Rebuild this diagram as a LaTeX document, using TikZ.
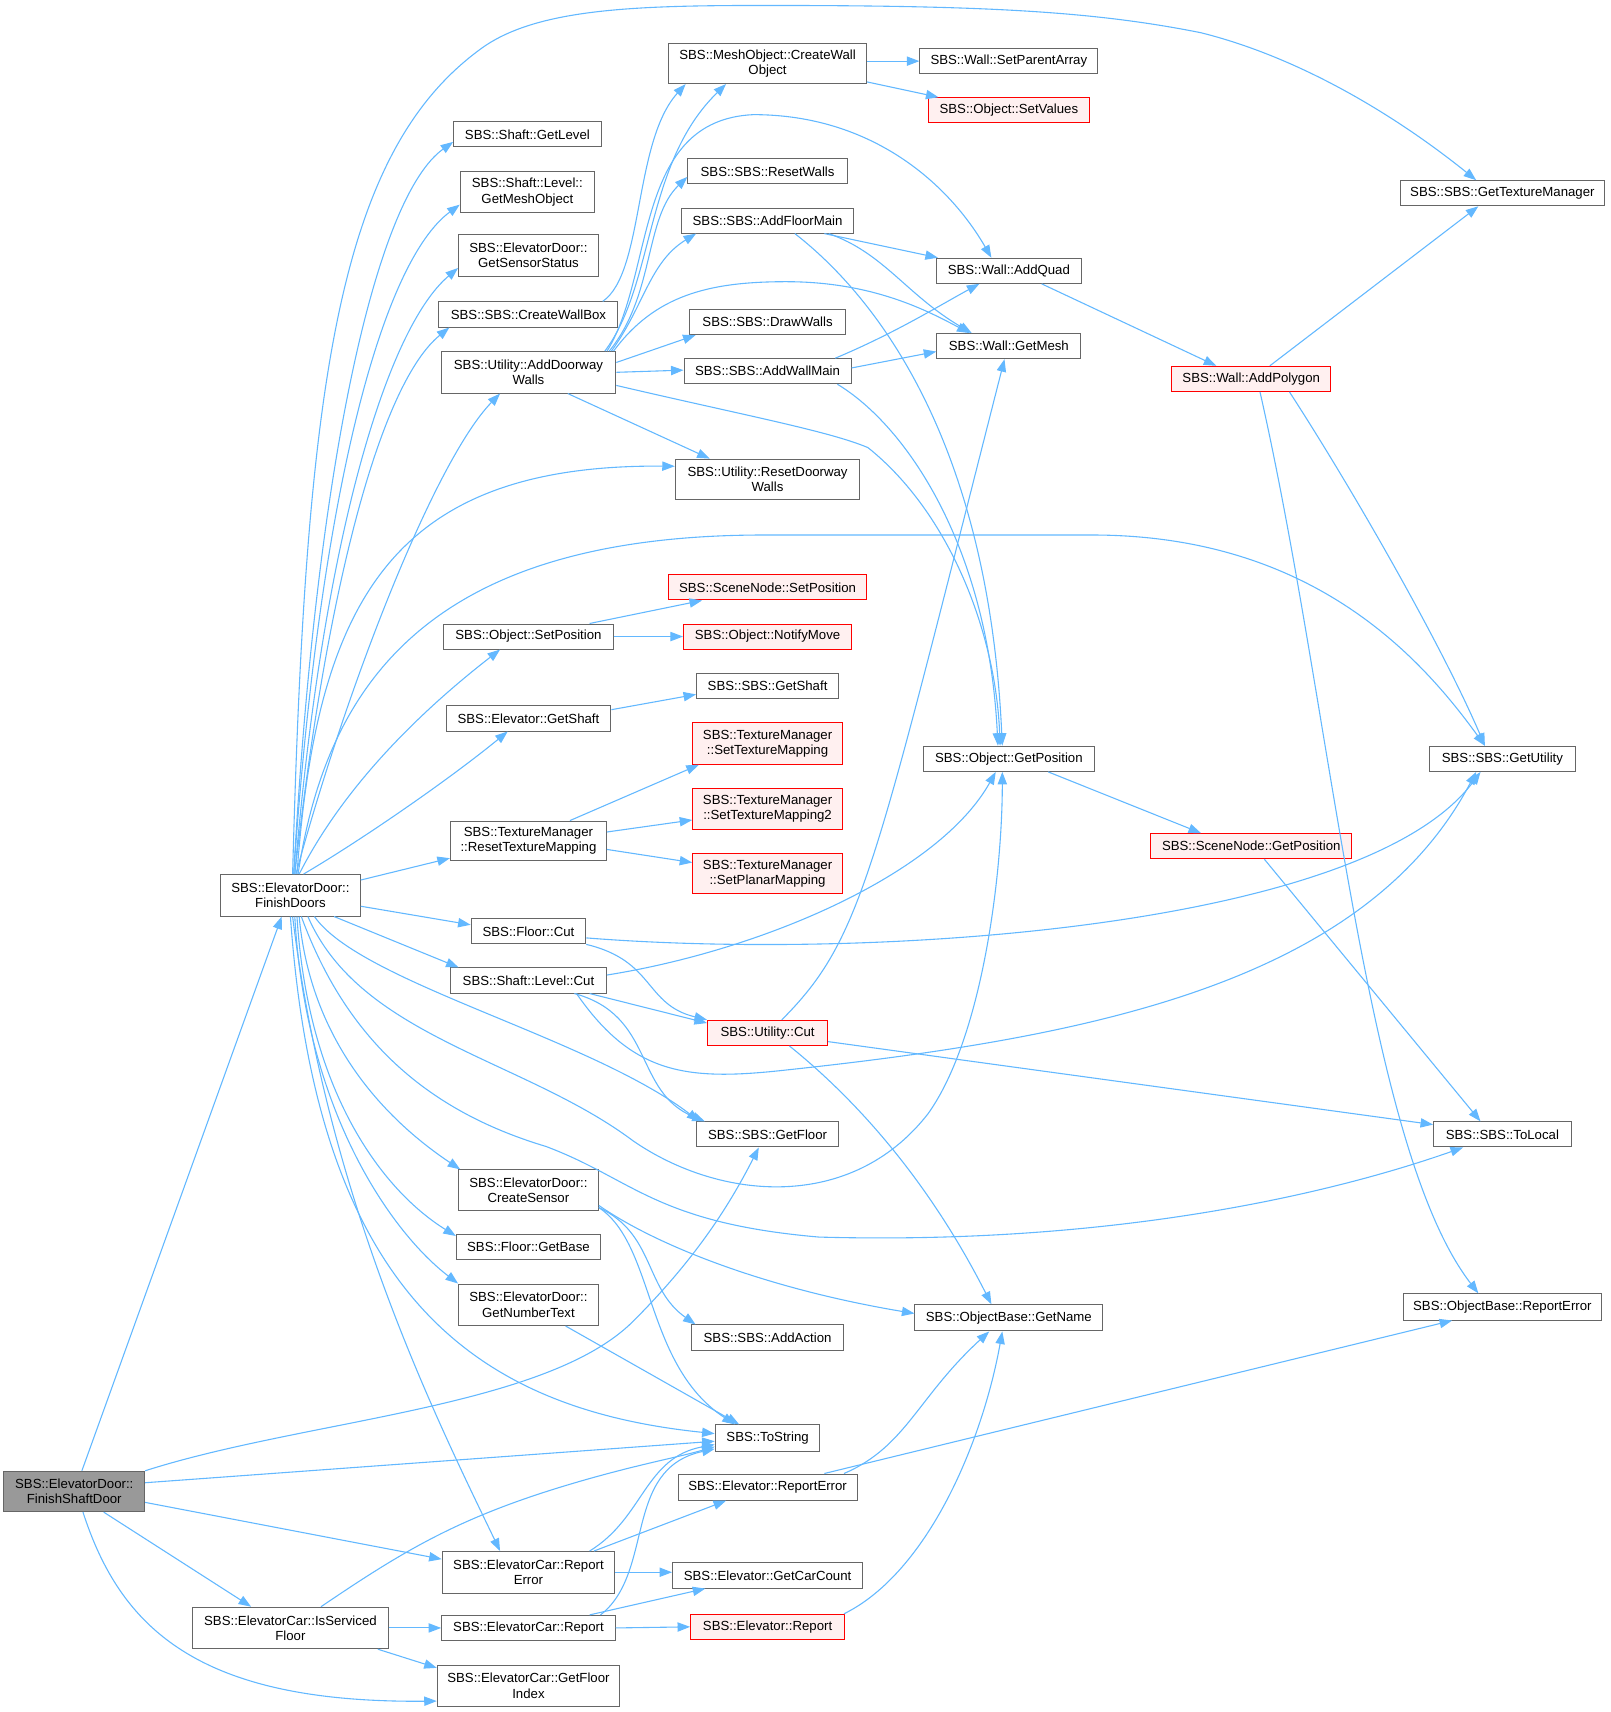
\documentclass[tikz,border=0pt]{standalone}
\usepackage{fontspec}
\setmainfont{Liberation Sans}
\usetikzlibrary{arrows.meta}
\definecolor{callblue}{HTML}{63B8FF}
\definecolor{boxline}{HTML}{666666}
\definecolor{rootgray}{HTML}{999999}
\definecolor{pinkfill}{HTML}{FFF0F0}

\begin{document}
\begin{tikzpicture}[x=1pt,y=-1pt,
  fn/.style={draw=boxline, fill=white, line width=0.9pt, align=center,
    font=\fontsize{12.1}{14}\selectfont, inner sep=1pt, minimum height=23pt},
  fn2/.style={fn, minimum height=38pt},
  hot/.style={draw=red, fill=pinkfill},
  call/.style={draw=callblue, line width=1pt, -{Triangle[length=11.5pt,width=8.5pt]}}]
\useasboundingbox (0,0) rectangle (1475,1568);
% caller and first level
\node[fn2, fill=rootgray, minimum width=129pt, minimum height=37pt] (root) at (68,1366) {SBS::ElevatorDoor::\\FinishShaftDoor};
\node[fn2, minimum width=128pt] (finishdoors) at (266,820) {SBS::ElevatorDoor::\\FinishDoors};
\node[fn2, minimum width=179pt] (isserviced) at (266,1491) {SBS::ElevatorCar::IsServiced\\Floor};
% second column
\node[fn, minimum width=135pt] (getlevel) at (483,123) {SBS::Shaft::GetLevel};
\node[fn2, minimum width=123pt] (meshobj) at (483,176) {SBS::Shaft::Level::\\GetMeshObject};
\node[fn2, minimum width=128pt] (sensorstatus) at (484,234) {SBS::ElevatorDoor::\\GetSensorStatus};
\node[fn, minimum width=164pt] (wallbox) at (484,288) {SBS::SBS::CreateWallBox};
\node[fn2, minimum width=160pt] (adddoorway) at (484,341) {SBS::Utility::AddDoorway\\Walls};
\node[fn, minimum width=155pt] (setpos) at (484,583) {SBS::Object::SetPosition};
\node[fn, minimum width=151pt] (elevshaft) at (484,658) {SBS::Elevator::GetShaft};
\node[fn2, minimum width=143pt, minimum height=36pt] (resettex) at (484,770) {SBS::TextureManager\\::ResetTextureMapping};
\node[fn, minimum width=105pt] (floorcut) at (484,853) {SBS::Floor::Cut};
\node[fn, minimum width=143pt] (levelcut) at (484,898) {SBS::Shaft::Level::Cut};
\node[fn2, minimum width=128pt, minimum height=37pt] (createsensor) at (484,1090) {SBS::ElevatorDoor::\\CreateSensor};
\node[fn, minimum width=132pt] (getbase) at (484,1142) {SBS::Floor::GetBase};
\node[fn2, minimum width=128pt] (numbertext) at (484,1195) {SBS::ElevatorDoor::\\GetNumberText};
\node[fn2, minimum width=158pt] (carerror) at (484,1440) {SBS::ElevatorCar::Report\\Error};
\node[fn, minimum width=159pt] (carreport) at (484,1491) {SBS::ElevatorCar::Report};
\node[fn2, minimum width=167pt] (floorindex) at (484,1544) {SBS::ElevatorCar::GetFloor\\Index};
% third column
\node[fn2, minimum width=181pt, minimum height=37pt] (wallobject) at (703,58) {SBS::MeshObject::CreateWall\\Object};
\node[fn, minimum width=146pt] (resetwalls) at (703,157) {SBS::SBS::ResetWalls};
\node[fn, minimum width=158pt] (floormain) at (703,202) {SBS::SBS::AddFloorMain};
\node[fn, minimum width=143pt] (drawwalls) at (703,295) {SBS::SBS::DrawWalls};
\node[fn, minimum width=153pt] (wallmain) at (703,340) {SBS::SBS::AddWallMain};
\node[fn2, minimum width=169pt, minimum height=37pt] (resetdoorway) at (703,439) {SBS::Utility::ResetDoorway\\Walls};
\node[fn, hot, minimum width=182pt] (nodesetpos) at (703,538) {SBS::SceneNode::SetPosition};
\node[fn, hot, minimum width=154pt] (notifymove) at (703,583) {SBS::Object::NotifyMove};
\node[fn, minimum width=130pt] (sbsshaft) at (703,628) {SBS::SBS::GetShaft};
\node[fn2, hot, minimum width=137pt] (texmap) at (703,681) {SBS::TextureManager\\::SetTextureMapping};
\node[fn2, hot, minimum width=137pt] (texmaptwo) at (703,741) {SBS::TextureManager\\::SetTextureMapping2};
\node[fn2, hot, minimum width=137pt, minimum height=37pt] (planar) at (703,800) {SBS::TextureManager\\::SetPlanarMapping};
\node[fn, hot, minimum width=110pt] (utilcut) at (703,946) {SBS::Utility::Cut};
\node[fn, minimum width=130pt] (getfloor) at (703,1039) {SBS::SBS::GetFloor};
\node[fn, minimum width=139pt] (addaction) at (703,1225) {SBS::SBS::AddAction};
\node[fn, minimum width=96pt, minimum height=24pt] (tostring) at (703,1317) {SBS::ToString};
\node[fn, minimum width=164pt, minimum height=24pt] (elevreperr) at (703,1362) {SBS::Elevator::ReportError};
\node[fn, minimum width=174pt] (carcount) at (703,1443) {SBS::Elevator::GetCarCount};
\node[fn, hot, minimum width=141pt] (elevreport) at (703,1490) {SBS::Elevator::Report};
% fourth column
\node[fn, minimum width=163pt] (parentarray) at (924,56) {SBS::Wall::SetParentArray};
\node[fn, hot, minimum width=148pt] (setvalues) at (924,101) {SBS::Object::SetValues};
\node[fn, minimum width=133pt] (addquad) at (924,248) {SBS::Wall::AddQuad};
\node[fn, minimum width=132pt] (wallmesh) at (924,317) {SBS::Wall::GetMesh};
\node[fn, minimum width=156pt] (getposition) at (924,695) {SBS::Object::GetPosition};
\node[fn, minimum width=172pt, minimum height=24pt] (getname) at (924,1207) {SBS::ObjectBase::GetName};
% fifth and sixth columns
\node[fn, hot, minimum width=146pt] (addpolygon) at (1146,347) {SBS::Wall::AddPolygon};
\node[fn, hot, minimum width=184pt] (nodegetpos) at (1146,775) {SBS::SceneNode::GetPosition};
\node[fn, minimum width=187pt] (texmanager) at (1376,177) {SBS::SBS::GetTextureManager};
\node[fn, minimum width=134pt] (getutility) at (1376,695) {SBS::SBS::GetUtility};
\node[fn, minimum width=126pt] (tolocal) at (1376,1039) {SBS::SBS::ToLocal};
\node[fn, minimum width=182pt, minimum height=24pt] (objreperr) at (1376,1197) {SBS::ObjectBase::ReportError};

% calls of FinishShaftDoor
\draw[call] ([xshift=7]root.north) -- ([xshift=-8]finishdoors.south);
\draw[call] (root.north east) .. controls (280,1300) and (500,1290) .. (580,1210) .. controls (640,1150) and (670,1100) .. ([xshift=-8]getfloor.south);
\draw[call] ([yshift=8]root.east) -- ([yshift=-3]tostring.west);
\draw[call] ([yshift=-10]root.east) -- ([yshift=12]carerror.west);
\draw[call] ([xshift=27]root.south) -- ([xshift=-36]isserviced.north);
\draw[call] ([xshift=8]root.south) .. controls (110,1490) and (180,1560) .. ([yshift=-14]floorindex.west);

% calls of FinishDoors
\draw[call] ([xshift=2]finishdoors.north) .. controls (280,350) and (310,140) .. (440,45) .. controls (490,8) and (580,5) .. (700,5) .. controls (900,5) and (1000,10) .. (1100,30) .. controls (1200,55) and (1290,115) .. ([xshift=-24]texmanager.north);
\draw[call] ([xshift=3]finishdoors.north) .. controls (290,420) and (345,180) .. ([yshift=5]getlevel.south west);
\draw[call] ([xshift=3]finishdoors.north) .. controls (293,450) and (350,240) .. ([yshift=8]meshobj.south west);
\draw[call] ([xshift=4]finishdoors.north) .. controls (296,490) and (355,300) .. ([yshift=8]sensorstatus.south west);
\draw[call] ([xshift=4]finishdoors.north) .. controls (300,530) and (350,350) .. ([xshift=10]wallbox.south west);
\draw[call] ([xshift=5]finishdoors.north) .. controls (320,620) and (400,420) .. ([xshift=-26]adddoorway.south);
\draw[call] ([xshift=6]finishdoors.north) .. controls (290,550) and (360,425) .. ([yshift=12]resetdoorway.west);
\draw[call] ([xshift=7]finishdoors.north) .. controls (300,620) and (400,490) .. (700,490) -- (1000,490) .. controls (1200,490) and (1300,600) .. ([xshift=-16]getutility.north);
\draw[call] ([xshift=8]finishdoors.north) .. controls (320,710) and (400,640) .. ([xshift=-26]setpos.south);
\draw[call] ([xshift=12]finishdoors.north) .. controls (330,770) and (410,715) .. ([xshift=-19]elevshaft.south);
\draw[call] ([yshift=14]finishdoors.east) -- ([yshift=-16]resettex.west);
\draw[call] ([yshift=-10]finishdoors.east) -- ([yshift=6]floorcut.west);
\draw[call] ([xshift=40]finishdoors.south) -- ([xshift=8]levelcut.north west);
\draw[call] ([xshift=22]finishdoors.south) .. controls (330,900) and (540,950) .. ([xshift=3]getfloor.north west);
\draw[call] ([xshift=16]finishdoors.south) .. controls (330,950) and (480,970) .. (580,1045) .. controls (660,1100) and (780,1110) .. (850,1020) .. controls (900,950) and (918,800) .. ([xshift=-6]getposition.south);
\draw[call] ([xshift=10]finishdoors.south) .. controls (320,960) and (400,1020) .. (500,1050) .. controls (580,1080) and (600,1120) .. (750,1133) .. controls (1000,1140) and (1200,1100) .. ([xshift=-36]tolocal.south);
\draw[call] ([xshift=8]finishdoors.south) .. controls (285,960) and (360,1030) .. ([xshift=2]createsensor.north west);
\draw[call] ([xshift=6]finishdoors.south) .. controls (282,1000) and (350,1090) .. ([yshift=-2]getbase.north west);
\draw[call] ([xshift=4]finishdoors.south) .. controls (280,1020) and (360,1130) .. (numbertext.north west);
\draw[call] (finishdoors.south) .. controls (290,1180) and (430,1290) .. ([yshift=4]tostring.west);
\draw[call] ([xshift=2]finishdoors.south) .. controls (300,1100) and (400,1300) .. ([xshift=-26]carerror.north);

% walls
\draw[call] ([xshift=68]wallbox.north) .. controls (590,250) and (580,130) .. ([xshift=-75]wallobject.south);
\draw[call] ([xshift=70]adddoorway.north) .. controls (600,260) and (590,150) .. ([xshift=-38]wallobject.south);
\draw[call] ([xshift=72]adddoorway.north) .. controls (600,250) and (580,110) .. (690,105) .. controls (800,105) and (870,170) .. ([xshift=-16]addquad.north);
\draw[call] ([xshift=74]adddoorway.north) .. controls (600,270) and (590,200) .. ([yshift=-5]resetwalls.west);
\draw[call] ([xshift=76]adddoorway.north) .. controls (590,280) and (595,240) .. ([xshift=14]floormain.south west);
\draw[call] ([xshift=78]adddoorway.north) .. controls (600,270) and (650,258) .. (720,258) .. controls (800,258) and (850,285) .. ([xshift=-36]wallmesh.north);
\draw[call] ([yshift=9]adddoorway.east) -- ([xshift=6]drawwalls.south west);
\draw[call] (adddoorway.east) -- ([yshift=1]wallmain.west);
\draw[call] ([xshift=36]adddoorway.south) -- ([xshift=-53]resetdoorway.north);
\draw[call] ([yshift=-12]adddoorway.east) .. controls (680,380) and (760,395) .. (795,410) .. controls (870,470) and (912,580) .. ([xshift=-8]getposition.north);
\draw[call] ([yshift=2]wallobject.east) -- (parentarray.west);
\draw[call] ([yshift=-17]wallobject.east) -- ([xshift=10]setvalues.north west);
\draw[call] ([xshift=52]floormain.south) -- ([xshift=2]addquad.north west);
\draw[call] ([xshift=56]floormain.south) .. controls (810,232) and (830,270) .. ([xshift=-34]wallmesh.north);
\draw[call] ([xshift=25]floormain.south) .. controls (800,270) and (905,400) .. ([xshift=-6]getposition.north);
\draw[call] ([xshift=62]wallmain.north) .. controls (820,305) and (860,280) .. ([xshift=-27]addquad.south);
\draw[call] ([yshift=3]wallmain.east) -- ([yshift=-5]wallmesh.west);
\draw[call] ([xshift=64]wallmain.south) .. controls (830,390) and (905,500) .. ([xshift=-10]getposition.north);
\draw[call] ([xshift=30]addquad.south) -- ([xshift=-32]addpolygon.north);
\draw[call] ([xshift=17]addpolygon.north) -- ([xshift=-22]texmanager.south);
\draw[call] ([xshift=35]addpolygon.south) .. controls (1240,450) and (1320,590) .. ([xshift=-16]getutility.north);
\draw[call] ([xshift=8]addpolygon.south) .. controls (1220,650) and (1250,1050) .. ([xshift=-22]objreperr.north);
\draw[call] ([xshift=36]getposition.south) -- ([xshift=-46]nodegetpos.north);
\draw[call] ([xshift=12]nodegetpos.south) -- ([xshift=-20]tolocal.north);

% position, shaft, textures
\draw[call] ([xshift=56]setpos.north) -- ([xshift=-60]nodesetpos.south);
\draw[call] (setpos.east) -- (notifymove.west);
\draw[call] ([yshift=8]elevshaft.east) -- ([yshift=-8]sbsshaft.west);
\draw[call] ([xshift=38]resettex.north) -- ([xshift=6]texmap.south west);
\draw[call] ([yshift=8]resettex.east) -- ([yshift=-10]texmaptwo.west);
\draw[call] ([yshift=-8]resettex.east) -- ([yshift=10]planar.west);

% cuts
\draw[call] (floorcut.south east) .. controls (600,880) and (590,920) .. (utilcut.north west);
\draw[call] ([yshift=-6]floorcut.east) .. controls (800,880) and (1250,850) .. ([xshift=-20]getutility.south);
\draw[call] ([yshift=5]levelcut.east) .. controls (700,870) and (860,800) .. ([xshift=-12]getposition.south);
\draw[call] ([xshift=56]levelcut.south) -- ([yshift=9]utilcut.west);
\draw[call] ([xshift=42]levelcut.south) .. controls (600,930) and (580,1000) .. ([xshift=8]getfloor.north west);
\draw[call] ([xshift=44]levelcut.south) .. controls (580,985) and (630,990) .. (720,980) .. controls (1000,950) and (1250,900) .. ([xshift=-24]getutility.south);
\draw[call] ([xshift=13]utilcut.north) .. controls (790,860) and (800,800) .. ([xshift=-4]wallmesh.south);
\draw[call] ([yshift=-8]utilcut.east) -- ([yshift=9]tolocal.west);
\draw[call] ([xshift=20]utilcut.south) .. controls (800,1020) and (860,1100) .. ([xshift=-16]getname.north);

% sensor and number text
\draw[call] ([yshift=-16]createsensor.east) .. controls (600,1140) and (590,1250) .. ([xshift=-30]tostring.north);
\draw[call] ([yshift=-16]createsensor.east) .. controls (600,1130) and (590,1180) .. ([xshift=4]addaction.north west);
\draw[call] ([yshift=-14]createsensor.east) .. controls (600,1140) and (700,1180) .. ([yshift=4]getname.west);
\draw[call] ([xshift=34]numbertext.south) -- ([xshift=-26]tostring.north);

% elevator car
\draw[call] ([xshift=28]isserviced.north) .. controls (370,1420) and (420,1390) .. (520,1360) .. controls (580,1342) and (620,1335) .. ([yshift=-8]tostring.west);
\draw[call] (isserviced.east) -- (carreport.west);
\draw[call] ([xshift=80]isserviced.south) -- ([yshift=-3]floorindex.north west);
\draw[call] ([xshift=56]carerror.north) .. controls (590,1390) and (590,1335) .. ([yshift=-6]tostring.west);
\draw[call] ([xshift=60]carerror.north) -- ([xshift=-38]elevreperr.south);
\draw[call] (carerror.east) -- ([yshift=3]carcount.west);
\draw[call] ([xshift=66]carreport.north) .. controls (600,1440) and (570,1345) .. ([yshift=-10]tostring.west);
\draw[call] ([xshift=56]carreport.north) -- ([xshift=-57]carcount.south);
\draw[call] (carreport.east) -- (elevreport.west);
\draw[call] ([xshift=70]elevreperr.north) .. controls (830,1325) and (840,1280) .. ([xshift=-18]getname.south);
\draw[call] ([xshift=52]elevreperr.north) -- ([xshift=-46]objreperr.south);
\draw[call] ([xshift=70]elevreport.north) .. controls (850,1440) and (900,1320) .. ([xshift=-6]getname.south);
\end{tikzpicture}
\end{document}
